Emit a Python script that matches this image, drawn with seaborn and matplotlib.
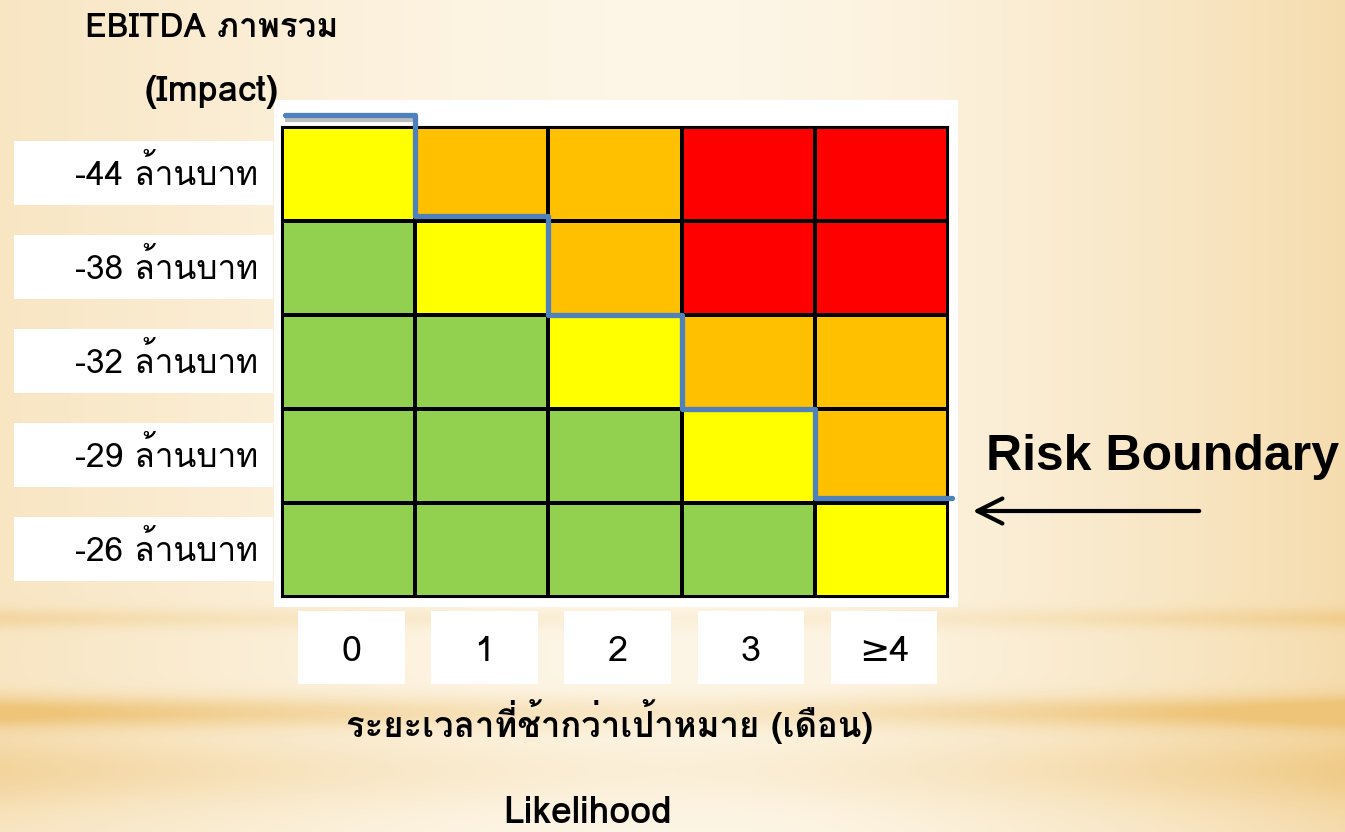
import numpy as np
import matplotlib
matplotlib.use("Agg")
import matplotlib.pyplot as plt
import seaborn as sns
from matplotlib import font_manager
from matplotlib.colors import ListedColormap
from matplotlib.patches import Rectangle, FancyArrowPatch
from matplotlib.transforms import blended_transform_factory

# ─────────────────────────────────────────
# DATA
# ─────────────────────────────────────────
impact_labels = ["-44 ล้านบาท", "-38 ล้านบาท", "-32 ล้านบาท", "-29 ล้านบาท", "-26 ล้านบาท"]
likelihood_labels = ["0", "1", "2", "3", "≥4"]
# 0 = green, 1 = yellow, 2 = orange, 3 = red
risk_levels = [
    [1, 2, 2, 3, 3],
    [0, 1, 2, 3, 3],
    [0, 0, 1, 2, 2],
    [0, 0, 0, 1, 2],
    [0, 0, 0, 0, 1],
]
# row (from top) where the risk boundary sits for each likelihood column
boundary_rows = [0, 1, 2, 3, 4]

level_colors = ["#92D050", "#FFFF00", "#FFC000", "#FF0000"]
y_title = "EBITDA ภาพรวม"
y_subtitle = "(Impact)"
x_title = "ระยะเวลาที่ช้ากว่าเป้าหมาย (เดือน)"
x_subtitle = "Likelihood"
note_text = "Risk Boundary"


# ─────────────────────────────────────────
# FONT: find something that can draw Thai
# ─────────────────────────────────────────
def find_thai_font():
    try:
        from fontTools.ttLib import TTFont
    except ImportError:
        return None
    for f in font_manager.fontManager.ttflist:
        try:
            tt = TTFont(f.fname, fontNumber=0, lazy=True)
            cmap = tt.getBestCmap() or {}
            if 0x0E25 in cmap and 0x0E32 in cmap and 0x0E19 in cmap:
                return f.name
        except Exception:
            continue
    return None


sns.set_theme(style="white")
thai_font = find_thai_font()
families = ([thai_font] if thai_font else []) + ["DejaVu Sans"]
plt.rcParams["font.family"] = families
plt.rcParams["text.color"] = "black"

W, H = 1345, 832
fig = plt.figure(figsize=(W / 100, H / 100), dpi=100)

# ─────────────────────────────────────────
# BACKGROUND (warm gradient with bands)
# ─────────────────────────────────────────
bg_ax = fig.add_axes([0, 0, 1, 1], zorder=-5)
xx = np.linspace(0, 1, W)[None, :]
yy = np.arange(H)[:, None]
warm_h = 0.32 * (1 - xx / 0.45).clip(0, 1) ** 1.5 + 0.5 * ((xx - 0.55) / 0.45).clip(0, 1) ** 1.5
edge = (np.abs(xx - 0.5) * 2) ** 1.2
bands = (0.30 * np.exp(-((yy - 618) / 10) ** 2)
         + 0.75 * np.exp(-((yy - 712) / 16) ** 2)
         + 0.35 * np.exp(-((yy - 770) / 35) ** 2))
warm = (warm_h + bands * (0.35 + 0.65 * edge)).clip(0, 1)
light = np.array([253, 245, 229]) / 255
dark = np.array([238, 196, 120]) / 255
img = light[None, None, :] * (1 - warm[..., None]) + dark[None, None, :] * warm[..., None]
bg_ax.imshow(img, aspect="auto", extent=[0, 1, 0, 1])
bg_ax.set_axis_off()

# white panel behind the matrix
fig.add_artist(Rectangle((274 / W, 1 - 607 / H), 684 / W, 507 / H,
                         transform=fig.transFigure, fc="white", ec="none", zorder=-1))

# ─────────────────────────────────────────
# HEATMAP
# ─────────────────────────────────────────
ax = fig.add_axes([282 / W, 1 - 597 / H, 666 / W, 470 / H], zorder=2)
sns.heatmap(np.array(risk_levels), ax=ax, cmap=ListedColormap(level_colors),
            vmin=-0.5, vmax=3.5, cbar=False, linewidths=1.5, linecolor="black",
            xticklabels=False, yticklabels=False, square=False)
for s in ax.spines.values():
    s.set_visible(True)
    s.set_color("black")
    s.set_linewidth(1.5)

# risk boundary step line
nudge = np.array([-0.13, -0.05, 0.0, 0.0, -0.05])
by = np.array(boundary_rows, dtype=float) + nudge
xs = np.repeat(np.arange(len(boundary_rows) + 1), 2)[1:-1].astype(float)
ys = np.repeat(by, 2)
xs[0] += 0.02
xs[-1] += 0.03
ax.plot(xs[:2], ys[:2] + 0.06, color="#BDBDBD", lw=3, clip_on=False, zorder=4,
        solid_capstyle="butt")
ax.plot(xs, ys, color="#4F81BD", lw=3.8, clip_on=False, zorder=5,
        solid_joinstyle="round", solid_capstyle="round")

# y labels in white boxes
ytrans = blended_transform_factory(fig.transFigure, ax.transData)
for i, lab in enumerate(impact_labels):
    fig.add_artist(Rectangle((14 / W, i + 0.15), 259 / W, 0.68, transform=ytrans,
                             fc="white", ec="none", zorder=1))
    fig.text(258 / W, i + 0.5, lab, transform=ytrans, ha="right", va="center",
             fontsize=24, color="black", zorder=3)

# x labels in white boxes
xtrans = blended_transform_factory(ax.transData, fig.transFigure)
for j, lab in enumerate(likelihood_labels):
    fig.add_artist(Rectangle((j + 0.12, 1 - 684 / H), 0.8, 73 / H, transform=xtrans,
                             fc="white", ec="none", zorder=1))
    fig.text(j + 0.52, 1 - 652 / H, lab, transform=xtrans, ha="center", va="center",
             fontsize=26, color="black", zorder=3)

# titles
fig.text(212 / W, 1 - 28 / H, y_title, ha="center", va="center",
         fontsize=24, fontweight="bold")
fig.text(212 / W, 1 - 92 / H, y_subtitle, ha="center", va="center",
         fontsize=26, fontweight="bold")
fig.text(610 / W, 1 - 722 / H, x_title, ha="center", va="center",
         fontsize=25, fontweight="bold")
fig.text(588 / W, 1 - 813 / H, x_subtitle, ha="center", va="center",
         fontsize=27, fontweight="bold")

# Risk Boundary annotation
fig.text(1163 / W, 1 - 457 / H, note_text, ha="center", va="center",
         fontsize=36, fontweight="bold", family=["Liberation Sans"] + families)
fig.add_artist(FancyArrowPatch((1202 / W, 1 - 511 / H), (970 / W, 1 - 511 / H),
                               transform=fig.transFigure, arrowstyle="->,head_length=0.9,head_width=0.45",
                               lw=3, color="black", mutation_scale=20, zorder=3))

plt.savefig("out.png", dpi=100)
plt.close()
